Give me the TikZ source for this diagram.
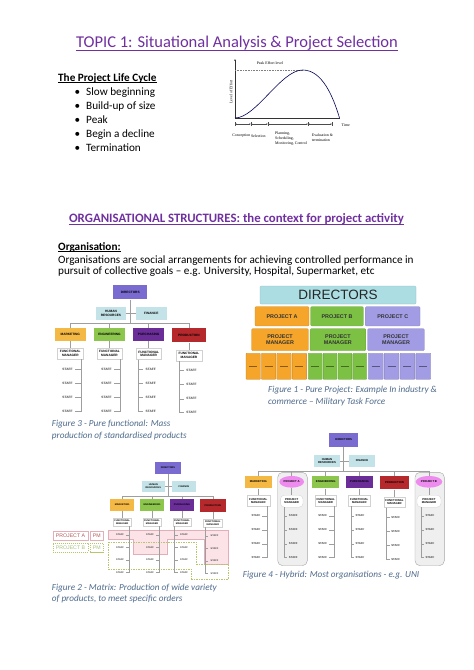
\documentclass[tikz,border=0pt]{standalone}
\usepackage{fontspec}
\setmainfont{Carlito}
\newfontfamily\arialf{Liberation Sans}
\newfontfamily\timesf{Liberation Serif}
\usetikzlibrary{arrows.meta,shapes.geometric}
\definecolor{ttl}{HTML}{7030A0}
\definecolor{capc}{HTML}{4F6B8C}
\definecolor{dirc}{HTML}{7A6BD0}
\definecolor{hrc}{HTML}{C4E3E8}
\definecolor{mkc}{HTML}{F4B844}
\definecolor{enc}{HTML}{8DC64C}
\definecolor{puc}{HTML}{6B2E99}
\definecolor{prc}{HTML}{B5282C}
\definecolor{f1d}{HTML}{ABDDE3}
\definecolor{f1o}{HTML}{F4A52A}
\definecolor{f1g}{HTML}{7CC144}
\definecolor{f1p}{HTML}{A29CE4}
\definecolor{pka}{HTML}{FBE3E7}
\definecolor{pkb}{HTML}{E3AEB8}
\definecolor{pkt}{HTML}{B5585A}
\definecolor{grb}{HTML}{B9C46E}
\definecolor{grt}{HTML}{A6C27C}
\definecolor{pav}{HTML}{EE8BEE}
\definecolor{pnl}{HTML}{EFEFEF}
\tikzset{
  txt/.style={inner sep=0pt, anchor=base west, font=\fontsize{11.2}{13}\selectfont},
  ul/.style={line width=0.6pt},
  gtxt/.style={inner sep=0pt, font=\timesf\fontsize{3.9}{4.9}\selectfont},
  gax/.style={line width=0.5pt, draw=black!80},
  conn/.style={draw=black!38, line width=0.45pt},
  ob/.style={inner sep=0pt, align=center, text=black, font=\arialf\bfseries\fontsize{3.2}{3.7}\selectfont},
  obs/.style={ob, font=\arialf\bfseries\fontsize{2.4}{2.8}\selectfont},
  obm/.style={ob, font=\arialf\bfseries\fontsize{2.8}{3.2}\selectfont},
  fmb/.style={fill=white, draw=black!18, line width=0.3pt},
  st/.style={inner sep=0pt, minimum height=4pt, text=black!75, font=\arialf\bfseries\fontsize{3.2}{3.7}\selectfont},
  sts/.style={st, font=\arialf\bfseries\fontsize{2.4}{2.8}\selectfont},
  stm/.style={st, font=\arialf\bfseries\fontsize{2.8}{3.2}\selectfont},
  capt/.style={inner sep=0pt, anchor=base west, text=capc, font=\itshape\fontsize{9.2}{11}\selectfont},
  pj/.style={inner sep=0pt, align=center, text=black!80, rounded corners=1pt, font=\arialf\bfseries\fontsize{5.4}{6.2}\selectfont},
}
\begin{document}
\begin{tikzpicture}[x=1pt,y=-1pt]
\useasboundingbox (0,0) rectangle (474,670);
\fill[white] (0,0) rectangle (474,670);

% ---------- title ----------
\node[inner sep=0pt, anchor=base, text=ttl, font=\fontsize{16.5}{19}\selectfont] (title) at (237,47.3) {TOPIC 1: Situational Analysis \& Project Selection};
\draw[ttl, line width=0.8pt] ([yshift=-2.6pt]title.base west) -- ([yshift=-2.6pt]title.base east);

% ---------- life cycle ----------
\node[txt, font=\bfseries\fontsize{11.2}{13}\selectfont] (plc) at (58,81) {The Project Life Cycle};
\draw[ul] ([yshift=-1.4pt]plc.base west) -- ([yshift=-1.4pt]plc.base east);
\foreach \t/\y [count=\i] in {Slow beginning/95.7, Build-up of size/109.7, Peak/123.7, Begin a decline/137.7, Termination/151.7} {
  \node[txt] (bl\i) at (74.5,\y) {•};
  \node[txt] (bt\i) at (86,\y) {\t};
}

% ---------- effort graph ----------
\coordinate (o) at (235,118);
\coordinate (ytop) at (235,59);
\coordinate (xend) at (339.5,118);
\coordinate (pk) at (302.7,70);
\draw[gax, -{Stealth[length=2pt,width=1.6pt]}] (o) -- (ytop);
\draw[gax] (o) -- (xend);
\draw[black!50, line width=0.3pt, dash pattern=on 0.8pt off 0.8pt] (o |- pk) -- (pk);
\draw[line width=0.6pt, draw=black!65!blue] (o) .. controls (256,118) and (281,70) .. (pk) .. controls (322,70) and (333,96) .. (xend);
\node[gtxt] (peak) at (270,63) {Peak Effort level};
\node[gtxt, rotate=90] (loe) at (231,92) {Level of Effort};
\node[gtxt, anchor=west] (time) at (341.5,125.5) {Time};
\foreach \x [count=\i] in {235,250.7,267.7,308,332} {
  \coordinate (t\i) at (\x,124);
  \draw[black!70, line width=0.35pt] (\x,122) -- (\x,126);
}
\foreach \a/\b in {1/2,2/3,3/4,4/5} {
  \draw[black!70, line width=0.35pt, {Stealth[length=1.6pt,width=1.3pt]}-{Stealth[length=1.6pt,width=1.3pt]}] (t\a) -- (t\b);
}
\node[gtxt] (lc1) at (241.3,135.7) {Conception};
\node[gtxt] (lc2) at (258.3,135.7) {Selection};
\node[gtxt, align=left, anchor=north west] (lc3) at (275,131.6) {Planning,\\Scheduling,\\Monitoring, Control};
\node[gtxt, align=left, anchor=north west] (lc4) at (311.7,133.6) {Evaluation \&\\termination};

% ---------- organisational structures ----------
\node[inner sep=0pt, anchor=base, text=ttl, font=\bfseries\fontsize{12.8}{14}\selectfont] (h2) at (236.5,222.3) {ORGANISATIONAL STRUCTURES: the context for project activity};
\draw[ttl, line width=0.6pt] ([yshift=-1.5pt]h2.base west) -- ([yshift=-1.5pt]h2.base east);
\node[txt, font=\bfseries\fontsize{11.2}{13}\selectfont] (org) at (58,250) {Organisation:};
\draw[ul] ([yshift=-1.4pt]org.base west) -- ([yshift=-1.4pt]org.base east);
\node[txt] (p1) at (58,263.3) {Organisations are social arrangements for achieving controlled performance in};
\node[txt] (p2) at (58,274.5) {pursuit of collective goals – e.g. University, Hospital, Supermarket, etc};

% ---------- Figure 3 ----------
\node[ob, fill=dirc, minimum width=34pt, minimum height=14.3pt] (f3dir) at (130.3,292.2) {DIRECTORS};
\node[ob, fill=hrc, minimum width=30pt, minimum height=12.7pt] (f3hr) at (111,313.7) {HUMAN\\RESOURCES};
\node[ob, fill=hrc, minimum width=30.7pt, minimum height=12.7pt] (f3fin) at (151.3,313.7) {FINANCE};
\node[ob, fill=mkc, minimum width=30.7pt, minimum height=12.7pt] (f3mk) at (70.3,334.7) {MARKETING};
\node[ob, fill=enc, minimum width=31pt, minimum height=12.7pt] (f3en) at (109.5,334.7) {ENGINEERING};
\node[ob, fill=puc, minimum width=30.7pt, minimum height=12.7pt] (f3pu) at (148.7,334.7) {PURCHASING};
\node[ob, fill=prc, minimum width=34pt, minimum height=14pt] (f3pr) at (189,335.3) {PRODUCTION};
\coordinate (f3b) at (130.3,323.7);
\draw[conn] (f3dir.south) -- (f3b);
\draw[conn] (f3hr.east) -- (f3hr.east -| f3b);
\draw[conn] (f3fin.west) -- (f3fin.west -| f3b);
\draw[conn] (f3mk.north) -- (f3mk.north |- f3b) -- (f3pr.north |- f3b) -- (f3pr.north);
\draw[conn] (f3en.north) -- (f3en.north |- f3b);
\draw[conn] (f3pu.north) -- (f3pu.north |- f3b);
\node[ob, fmb, minimum width=26pt, minimum height=11pt] (f3fm1) at (70.3,353.5) {FUNCTIONAL\\MANAGER};
\node[ob, fmb, minimum width=25.7pt, minimum height=11pt] (f3fm2) at (109.5,353.5) {FUNCTIONAL\\MANAGER};
\node[ob, fmb, minimum width=25.3pt, minimum height=11pt] (f3fm3) at (148.7,354) {FUNCTIONAL\\MANAGER};
\node[ob, fmb, minimum width=25.3pt, minimum height=10.5pt] (f3fm4) at (189,355.7) {FUNCTIONAL\\MANAGER};
\draw[conn] (f3mk) -- (f3fm1);
\draw[conn] (f3en) -- (f3fm2);
\draw[conn] (f3pu) -- (f3fm3);
\draw[conn] (f3pr) -- (f3fm4);
\foreach \y [count=\j] in {369.3,383.3,397.3,411} {
  \node[st, minimum width=15pt] (f3sa\j) at (67.5,\y) {STAFF};
  \draw[conn] ([xshift=-2.6pt]f3fm1.south east) |- (f3sa\j.east);
  \node[st, minimum width=15pt] (f3sb\j) at (106.5,\y) {STAFF};
  \draw[conn] ([xshift=-2.6pt]f3fm2.south east) |- (f3sb\j.east);
  \node[st, minimum width=15pt] (f3sc\j) at (150.7,\y) {STAFF};
  \draw[conn] ([xshift=2.6pt]f3fm3.south west) |- (f3sc\j.west);
}
\foreach \y [count=\j] in {370.5,384.3,398.8,412.5} {
  \node[st, minimum width=15pt] (f3sd\j) at (191.5,\y) {STAFF};
  \draw[conn] ([xshift=2.6pt]f3fm4.south west) |- (f3sd\j.west);
}
\node[capt] (cap3a) at (51.7,426.3) {Figure 3 - Pure functional: Mass};
\node[capt] (cap3b) at (51.7,438) {production of standardised products};

% ---------- Figure 1 ----------
\node[pj, fill=f1d, draw=f1d!85!black, line width=0.3pt, minimum width=156pt, minimum height=18pt, font=\arialf\fontsize{13.5}{15}\selectfont, text=black!85] (f1dir) at (338,295) {DIRECTORS};
\node[pj, fill=f1o, draw=f1o!85!black, line width=0.3pt, minimum width=54pt, minimum height=19.3pt] (f1pa) at (282,316.3) {PROJECT A};
\node[pj, fill=f1g, draw=f1g!85!black, line width=0.3pt, minimum width=52.6pt, minimum height=19.3pt] (f1pb) at (337,316.3) {PROJECT B};
\node[pj, fill=f1p, draw=f1p!85!black, line width=0.3pt, minimum width=54.7pt, minimum height=19.3pt] (f1pc) at (392.7,316.3) {PROJECT C};
\node[pj, fill=f1o, draw=f1o!85!black, line width=0.3pt, minimum width=56.6pt, minimum height=22pt] (f1ma) at (280,339.7) {PROJECT\\MANAGER};
\node[pj, fill=f1g, draw=f1g!85!black, line width=0.3pt, minimum width=55.7pt, minimum height=22pt] (f1mb) at (337.9,339.7) {PROJECT\\MANAGER};
\node[pj, fill=f1p, draw=f1p!85!black, line width=0.3pt, minimum width=56.6pt, minimum height=22pt] (f1mc) at (396,339.7) {PROJECT\\MANAGER};
\foreach \s/\w/\c/\g in {246/14.4/f1o/o, 308.3/13.85/f1g/g, 368.3/14.85/f1p/p} {
  \foreach \i in {0,...,3} {
    \node[inner sep=0pt, fill=\c, draw=\c!80!black, line width=0.3pt, rounded corners=0.6pt, minimum width=\w pt, minimum height=26pt] (f1s\g\i) at ({\s+\w/2+\i*(\w+1)},366.3) {};
    \draw[\c!55!black, line width=0.3pt] ([xshift=-4pt]f1s\g\i.center) -- ([xshift=4pt]f1s\g\i.center);
  }
}
\node[capt] (cap1a) at (268,392.3) {Figure 1 - Pure Project: Example In industry \&};
\node[capt] (cap1b) at (268,404) {commerce – Military Task Force};

% ---------- Figure 2 ----------
\fill[pka] (108.3,530) -- (228.3,530) -- (228.3,564.3) -- (204,564.3) -- (204,539) -- (166.7,539) -- (166.7,554.3) -- (133.3,554.3) -- (133.3,539) -- (108.3,539) -- cycle;
\draw[pkb, line width=0.3pt] (108.3,530) -- (228.3,530) -- (228.3,564.3) -- (204,564.3) -- (204,539) -- (166.7,539) -- (166.7,554.3) -- (133.3,554.3) -- (133.3,539) -- (108.3,539) -- cycle;
\draw[grb, line width=0.45pt, dash pattern=on 1.5pt off 1pt] (108.3,542.3) -- (196.7,542.3) -- (196.7,564.3) -- (228.3,564.3) -- (228.3,579) -- (191.7,579) -- (191.7,569.3) -- (108.3,569.3) -- cycle;
\node[obs, fill=dirc, minimum width=26pt, minimum height=12.3pt] (f2dir) at (168,467.8) {DIRECTORS};
\node[obs, fill=hrc, minimum width=22.7pt, minimum height=11pt] (f2hr) at (153.3,486.5) {HUMAN\\RESOURCES};
\node[obs, fill=hrc, minimum width=23.3pt, minimum height=11pt] (f2fin) at (184,486.5) {FINANCE};
\node[obs, fill=mkc, minimum width=24.3pt, minimum height=11.4pt] (f2mk) at (122.2,505) {MARKETING};
\node[obs, fill=enc, minimum width=24pt, minimum height=11.4pt] (f2en) at (152,505) {ENGINEERING};
\node[obs, fill=puc, minimum width=24pt, minimum height=11.4pt] (f2pu) at (182,505) {PURCHASING};
\node[obs, fill=prc, minimum width=25.7pt, minimum height=12.7pt] (f2pr) at (212.8,505.7) {PRODUCTION};
\coordinate (f2b) at (168,496);
\draw[conn] (f2dir.south) -- (f2b);
\draw[conn] (f2hr.east) -- (f2hr.east -| f2b);
\draw[conn] (f2fin.west) -- (f2fin.west -| f2b);
\draw[conn] (f2mk.north) -- (f2mk.north |- f2b) -- (f2pr.north |- f2b) -- (f2pr.north);
\draw[conn] (f2en.north) -- (f2en.north |- f2b);
\draw[conn] (f2pu.north) -- (f2pu.north |- f2b);
\node[obs, fmb, minimum width=17.7pt, minimum height=8pt] (f2fm1) at (122.2,522) {FUNCTIONAL\\MANAGER};
\node[obs, fmb, minimum width=17.7pt, minimum height=8pt] (f2fm2) at (152,522) {FUNCTIONAL\\MANAGER};
\node[obs, fmb, minimum width=17.7pt, minimum height=8pt] (f2fm3) at (182,522) {FUNCTIONAL\\MANAGER};
\node[obs, fmb, minimum width=19pt, minimum height=8pt] (f2fm4) at (212.8,523) {FUNCTIONAL\\MANAGER};
\draw[conn] (f2mk) -- (f2fm1);
\draw[conn] (f2en) -- (f2fm2);
\draw[conn] (f2pu) -- (f2fm3);
\draw[conn] (f2pr) -- (f2fm4);
\foreach \y [count=\j] in {535,547.7,560,572.3} {
  \node[sts, minimum width=12pt] (f2sa\j) at (120,\y) {STAFF};
  \draw[conn] ([xshift=-1.5pt]f2fm1.south east) |- (f2sa\j.east);
  \node[sts, minimum width=12pt] (f2sb\j) at (150,\y) {STAFF};
  \draw[conn] ([xshift=-1.5pt]f2fm2.south east) |- (f2sb\j.east);
  \node[sts, minimum width=12pt] (f2sc\j) at (184,\y) {STAFF};
  \draw[conn] ([xshift=1.7pt]f2fm3.south west) |- (f2sc\j.west);
}
\foreach \y [count=\j] in {536,548.7,561,573.3} {
  \node[sts, minimum width=12pt] (f2sd\j) at (214.5,\y) {STAFF};
  \draw[conn] ([xshift=2pt]f2fm4.south west) |- (f2sd\j.west);
}
\node[inner sep=0pt, draw=pkb, fill=white, line width=0.4pt, text=pkt, minimum width=35.6pt, minimum height=9pt, font=\arialf\fontsize{5.2}{6}\selectfont] (f2pa) at (70.5,535.5) {PROJECT A};
\node[inner sep=0pt, draw=pkb, fill=white, line width=0.4pt, text=pkt, minimum width=13pt, minimum height=9pt, font=\arialf\fontsize{5.2}{6}\selectfont] (f2pma) at (96.8,535.5) {PM};
\node[inner sep=0pt, draw=grb, dash pattern=on 1.2pt off 0.8pt, fill=white, line width=0.4pt, text=grt, minimum width=35.6pt, minimum height=8.4pt, font=\arialf\fontsize{5.2}{6}\selectfont] (f2pb) at (70.5,547.5) {PROJECT B};
\node[inner sep=0pt, draw=grb, dash pattern=on 1.2pt off 0.8pt, fill=white, line width=0.4pt, text=grt, minimum width=13pt, minimum height=8.4pt, font=\arialf\fontsize{5.2}{6}\selectfont] (f2pmb) at (96.8,547.5) {PM};
\node[capt] (cap2a) at (51.7,590.3) {Figure 2 - Matrix: Production of wide variety};
\node[capt] (cap2b) at (51.7,601.7) {of products, to meet specific orders};

% ---------- Figure 4 ----------
\node[fill=pnl, draw=black!35, line width=0.4pt, rounded corners=5pt, minimum width=29.6pt, minimum height=93.4pt, inner sep=0pt] (f4pna) at (292.5,519) {};
\node[fill=pnl, draw=black!35, line width=0.4pt, rounded corners=5pt, minimum width=29.3pt, minimum height=93.4pt, inner sep=0pt] (f4pnb) at (429.65,519) {};
\node[obm, fill=dirc, minimum width=29.3pt, minimum height=14pt] (f4dir) at (343.7,439.7) {DIRECTORS};
\node[obm, fill=hrc, minimum width=26pt, minimum height=11.7pt] (f4hr) at (327,460.8) {HUMAN\\RESOURCES};
\node[obm, fill=hrc, minimum width=26pt, minimum height=11.7pt] (f4fin) at (362,460.8) {FINANCE};
\node[obm, fill=mkc, minimum width=26.7pt, minimum height=12.6pt] (f4mk) at (258.3,482) {MARKETING};
\node[obm, fill=pav, ellipse, minimum width=24.7pt, minimum height=11.7pt] (f4pa) at (291.7,481.8) {PROJECT A};
\node[obm, fill=enc, minimum width=26.7pt, minimum height=12.6pt] (f4en) at (325.7,482) {ENGINEERING};
\node[obm, fill=puc, minimum width=26.7pt, minimum height=12.6pt] (f4pu) at (359.3,482) {PURCHASING};
\node[obm, fill=prc, minimum width=29pt, minimum height=13.6pt] (f4pr) at (394.5,482.5) {PRODUCTION};
\node[obm, fill=pav, ellipse, minimum width=26.6pt, minimum height=11.7pt] (f4pb) at (429,481.8) {PROJECT B};
\coordinate (f4b) at (343.7,471.7);
\draw[conn] (f4dir.south) -- (f4b);
\draw[conn] (f4hr.east) -- (f4hr.east -| f4b);
\draw[conn] (f4fin.west) -- (f4fin.west -| f4b);
\draw[conn] (f4mk.north) -- (f4mk.north |- f4b) -- (f4pb.north |- f4b) -- (f4pb.north);
\draw[conn] (f4pa.north) -- (f4pa.north |- f4b);
\draw[conn] (f4en.north) -- (f4en.north |- f4b);
\draw[conn] (f4pu.north) -- (f4pu.north |- f4b);
\draw[conn] (f4pr.north) -- (f4pr.north |- f4b);
\node[obm, fmb, minimum width=22.7pt, minimum height=10.7pt] (f4fm1) at (258.3,500.7) {FUNCTIONAL\\MANAGER};
\node[obm, fmb, rounded corners=4pt, minimum width=22.7pt, minimum height=12pt] (f4pma) at (291.7,501.2) {PROJECT\\MANAGER};
\node[obm, fmb, minimum width=21.7pt, minimum height=10.7pt] (f4fm2) at (325.7,500.7) {FUNCTIONAL\\MANAGER};
\node[obm, fmb, minimum width=21.7pt, minimum height=10.7pt] (f4fm3) at (359.3,500.7) {FUNCTIONAL\\MANAGER};
\node[obm, fmb, minimum width=21.7pt, minimum height=10.7pt] (f4fm4) at (394.5,502) {FUNCTIONAL\\MANAGER};
\node[obm, fmb, rounded corners=4pt, minimum width=24pt, minimum height=12pt] (f4pmb) at (429,501.2) {PROJECT\\MANAGER};
\draw[conn] (f4mk) -- (f4fm1);
\draw[conn] (f4pa) -- (f4pma);
\draw[conn] (f4en) -- (f4fm2);
\draw[conn] (f4pu) -- (f4fm3);
\draw[conn] (f4pr) -- (f4fm4);
\draw[conn] (f4pb) -- (f4pmb);
\foreach \y [count=\j] in {516,530,544,557.7} {
  \node[stm, minimum width=12pt] (f4sa\j) at (256,\y) {STAFF};
  \draw[conn] ([xshift=-3pt]f4fm1.south east) |- (f4sa\j.east);
  \node[stm, minimum width=12pt] (f4sb\j) at (293.3,\y) {STAFF};
  \draw[conn] ([xshift=-7.35pt]f4pma.south) |- (f4sb\j.west);
  \node[stm, minimum width=12pt] (f4sc\j) at (322.7,\y) {STAFF};
  \draw[conn] ([xshift=-2.6pt]f4fm2.south east) |- (f4sc\j.east);
  \node[stm, minimum width=12pt] (f4sd\j) at (360,\y) {STAFF};
  \draw[conn] ([xshift=2.6pt]f4fm3.south west) |- (f4sd\j.west);
  \node[stm, minimum width=12pt] (f4sf\j) at (430,\y) {STAFF};
  \draw[conn] ([xshift=-8pt]f4pmb.south) |- (f4sf\j.west);
}
\foreach \y [count=\j] in {517.7,531.7,545.7,559.3} {
  \node[stm, minimum width=12pt] (f4se\j) at (395.7,\y) {STAFF};
  \draw[conn] ([xshift=2.4pt]f4fm4.south west) |- (f4se\j.west);
}
\node[capt] (cap4a) at (242.7,577.3) {Figure 4 - Hybrid: Most organisations - e.g. UNI};
\end{tikzpicture}
\end{document}
